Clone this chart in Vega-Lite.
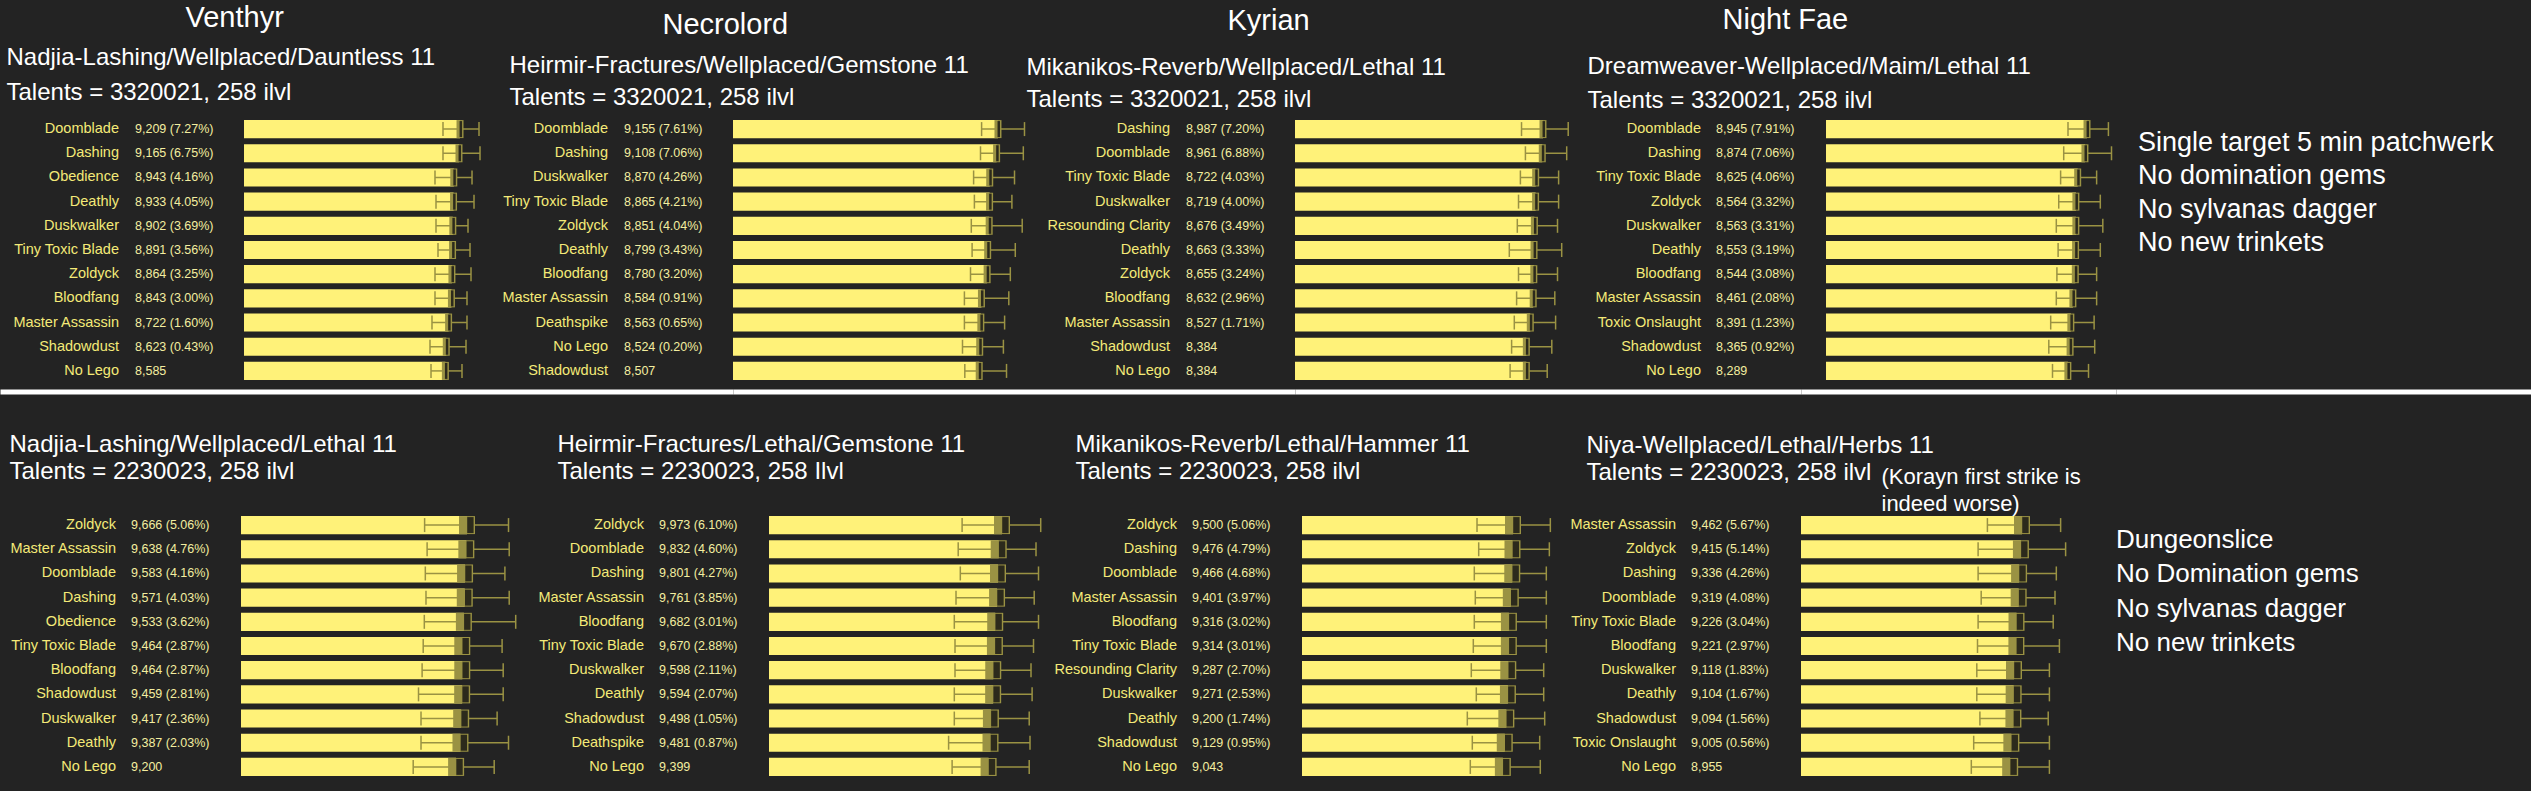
{
"$schema": "https://vega.github.io/schema/vega-lite/v6.json",
"background": "#232323",
"padding": {"left": 0, "top": 3, "right": 0, "bottom": 14},
"config": {"view": {"stroke": null}},
"datasets": {
"tv": [
{"name": "Doomblade", "dps": 9209, "txt": "9,209 (7.27%)", "lo": 8483, "hi": 10018},
{"name": "Dashing", "dps": 9165, "txt": "9,165 (6.75%)", "lo": 8483, "hi": 10061},
{"name": "Obedience", "dps": 8943, "txt": "8,943 (4.16%)", "lo": 8142, "hi": 9720},
{"name": "Deathly", "dps": 8933, "txt": "8,933 (4.05%)", "lo": 8185, "hi": 9805},
{"name": "Duskwalker", "dps": 8902, "txt": "8,902 (3.69%)", "lo": 8185, "hi": 9549},
{"name": "Tiny Toxic Blade", "dps": 8891, "txt": "8,891 (3.56%)", "lo": 8270, "hi": 9634},
{"name": "Zoldyck", "dps": 8864, "txt": "8,864 (3.25%)", "lo": 8142, "hi": 9677},
{"name": "Bloodfang", "dps": 8843, "txt": "8,843 (3.00%)", "lo": 8142, "hi": 9506},
{"name": "Master Assassin", "dps": 8722, "txt": "8,722 (1.60%)", "lo": 8014, "hi": 9506},
{"name": "Shadowdust", "dps": 8623, "txt": "8,623 (0.43%)", "lo": 7929, "hi": 9464},
{"name": "No Lego", "dps": 8585, "txt": "8,585", "lo": 7972, "hi": 9293}
],
"tn": [
{"name": "Doomblade", "dps": 9155, "txt": "9,155 (7.61%)", "lo": 8589, "hi": 10071},
{"name": "Dashing", "dps": 9108, "txt": "9,108 (7.06%)", "lo": 8551, "hi": 10030},
{"name": "Duskwalker", "dps": 8870, "txt": "8,870 (4.26%)", "lo": 8313, "hi": 9726},
{"name": "Tiny Toxic Blade", "dps": 8865, "txt": "8,865 (4.21%)", "lo": 8340, "hi": 9636},
{"name": "Zoldyck", "dps": 8851, "txt": "8,851 (4.04%)", "lo": 8233, "hi": 9992},
{"name": "Deathly", "dps": 8799, "txt": "8,799 (3.43%)", "lo": 8261, "hi": 9753},
{"name": "Bloodfang", "dps": 8780, "txt": "8,780 (3.20%)", "lo": 8206, "hi": 9581},
{"name": "Master Assassin", "dps": 8584, "txt": "8,584 (0.91%)", "lo": 7995, "hi": 9529},
{"name": "Deathspike", "dps": 8563, "txt": "8,563 (0.65%)", "lo": 7995, "hi": 9384},
{"name": "No Lego", "dps": 8524, "txt": "8,524 (0.20%)", "lo": 7929, "hi": 9342},
{"name": "Shadowdust", "dps": 8507, "txt": "8,507", "lo": 8009, "hi": 9450}
],
"tk": [
{"name": "Dashing", "dps": 8987, "txt": "8,987 (7.20%)", "lo": 8209, "hi": 9901},
{"name": "Doomblade", "dps": 8961, "txt": "8,961 (6.88%)", "lo": 8350, "hi": 9846},
{"name": "Tiny Toxic Blade", "dps": 8722, "txt": "8,722 (4.03%)", "lo": 8168, "hi": 9553},
{"name": "Duskwalker", "dps": 8719, "txt": "8,719 (4.00%)", "lo": 8100, "hi": 9553},
{"name": "Resounding Clarity", "dps": 8676, "txt": "8,676 (3.49%)", "lo": 8056, "hi": 9513},
{"name": "Deathly", "dps": 8663, "txt": "8,663 (3.33%)", "lo": 7766, "hi": 9665},
{"name": "Zoldyck", "dps": 8655, "txt": "8,655 (3.24%)", "lo": 8100, "hi": 9513},
{"name": "Bloodfang", "dps": 8632, "txt": "8,632 (2.96%)", "lo": 8031, "hi": 9415},
{"name": "Master Assassin", "dps": 8527, "txt": "8,527 (1.71%)", "lo": 7947, "hi": 9444},
{"name": "Shadowdust", "dps": 8384, "txt": "8,384", "lo": 7850, "hi": 9306},
{"name": "No Lego", "dps": 8384, "txt": "8,384", "lo": 7795, "hi": 9140}
],
"tf": [
{"name": "Doomblade", "dps": 8945, "txt": "8,945 (7.91%)", "lo": 8293, "hi": 9678},
{"name": "Dashing", "dps": 8874, "txt": "8,874 (7.06%)", "lo": 8146, "hi": 9784},
{"name": "Tiny Toxic Blade", "dps": 8625, "txt": "8,625 (4.06%)", "lo": 8040, "hi": 9274},
{"name": "Zoldyck", "dps": 8564, "txt": "8,564 (3.32%)", "lo": 7975, "hi": 9400},
{"name": "Duskwalker", "dps": 8563, "txt": "8,563 (3.31%)", "lo": 7892, "hi": 9486},
{"name": "Deathly", "dps": 8553, "txt": "8,553 (3.19%)", "lo": 7954, "hi": 9400},
{"name": "Bloodfang", "dps": 8544, "txt": "8,544 (3.08%)", "lo": 7913, "hi": 9274},
{"name": "Master Assassin", "dps": 8461, "txt": "8,461 (2.08%)", "lo": 7892, "hi": 9274},
{"name": "Toxic Onslaught", "dps": 8391, "txt": "8,391 (1.23%)", "lo": 7700, "hi": 9188},
{"name": "Shadowdust", "dps": 8365, "txt": "8,365 (0.92%)", "lo": 7635, "hi": 9208},
{"name": "No Lego", "dps": 8289, "txt": "8,289", "lo": 7762, "hi": 8996}
],
"bv": [
{"name": "Zoldyck", "dps": 9666, "txt": "9,666 (5.06%)", "lo": 7853, "hi": 11441},
{"name": "Master Assassin", "dps": 9638, "txt": "9,638 (4.76%)", "lo": 7960, "hi": 11471},
{"name": "Doomblade", "dps": 9583, "txt": "9,583 (4.16%)", "lo": 7883, "hi": 11287},
{"name": "Dashing", "dps": 9571, "txt": "9,571 (4.03%)", "lo": 7912, "hi": 11471},
{"name": "Obedience", "dps": 9533, "txt": "9,533 (3.62%)", "lo": 7840, "hi": 11749},
{"name": "Tiny Toxic Blade", "dps": 9464, "txt": "9,464 (2.87%)", "lo": 7793, "hi": 11167},
{"name": "Bloodfang", "dps": 9464, "txt": "9,464 (2.87%)", "lo": 7746, "hi": 11214},
{"name": "Shadowdust", "dps": 9459, "txt": "9,459 (2.81%)", "lo": 7592, "hi": 11214},
{"name": "Duskwalker", "dps": 9417, "txt": "9,417 (2.36%)", "lo": 7699, "hi": 10954},
{"name": "Deathly", "dps": 9387, "txt": "9,387 (2.03%)", "lo": 7699, "hi": 11441},
{"name": "No Lego", "dps": 9200, "txt": "9,200", "lo": 7365, "hi": 10829}
],
"bn": [
{"name": "Zoldyck", "dps": 9973, "txt": "9,973 (6.10%)", "lo": 8265, "hi": 11629},
{"name": "Doomblade", "dps": 9832, "txt": "9,832 (4.60%)", "lo": 8098, "hi": 11428},
{"name": "Dashing", "dps": 9801, "txt": "9,801 (4.27%)", "lo": 8188, "hi": 11535},
{"name": "Master Assassin", "dps": 9761, "txt": "9,761 (3.85%)", "lo": 8004, "hi": 11351},
{"name": "Bloodfang", "dps": 9682, "txt": "9,682 (3.01%)", "lo": 7931, "hi": 11535},
{"name": "Tiny Toxic Blade", "dps": 9670, "txt": "9,670 (2.88%)", "lo": 7961, "hi": 11321},
{"name": "Duskwalker", "dps": 9598, "txt": "9,598 (2.11%)", "lo": 7961, "hi": 11214},
{"name": "Deathly", "dps": 9594, "txt": "9,594 (2.07%)", "lo": 7931, "hi": 11261},
{"name": "Shadowdust", "dps": 9498, "txt": "9,498 (1.05%)", "lo": 7931, "hi": 11137},
{"name": "Deathspike", "dps": 9481, "txt": "9,481 (0.87%)", "lo": 7687, "hi": 11171},
{"name": "No Lego", "dps": 9399, "txt": "9,399", "lo": 7837, "hi": 11137}
],
"bk": [
{"name": "Zoldyck", "dps": 9500, "txt": "9,500 (5.06%)", "lo": 7879, "hi": 11180},
{"name": "Dashing", "dps": 9476, "txt": "9,476 (4.79%)", "lo": 7955, "hi": 11135},
{"name": "Doomblade", "dps": 9466, "txt": "9,466 (4.68%)", "lo": 7757, "hi": 10999},
{"name": "Master Assassin", "dps": 9401, "txt": "9,401 (3.97%)", "lo": 7802, "hi": 10999},
{"name": "Bloodfang", "dps": 9316, "txt": "9,316 (3.02%)", "lo": 7757, "hi": 10999},
{"name": "Tiny Toxic Blade", "dps": 9314, "txt": "9,314 (3.01%)", "lo": 7712, "hi": 10999},
{"name": "Resounding Clarity", "dps": 9287, "txt": "9,287 (2.70%)", "lo": 7622, "hi": 10881},
{"name": "Duskwalker", "dps": 9271, "txt": "9,271 (2.53%)", "lo": 7847, "hi": 10881},
{"name": "Deathly", "dps": 9200, "txt": "9,200 (1.74%)", "lo": 7442, "hi": 10926},
{"name": "Shadowdust", "dps": 9129, "txt": "9,129 (0.95%)", "lo": 7667, "hi": 10701},
{"name": "No Lego", "dps": 9043, "txt": "9,043", "lo": 7577, "hi": 10728}
],
"bf": [
{"name": "Master Assassin", "dps": 9462, "txt": "9,462 (5.67%)", "lo": 7980, "hi": 11114},
{"name": "Zoldyck", "dps": 9415, "txt": "9,415 (5.14%)", "lo": 7582, "hi": 11328},
{"name": "Dashing", "dps": 9336, "txt": "9,336 (4.26%)", "lo": 7582, "hi": 10930},
{"name": "Doomblade", "dps": 9319, "txt": "9,319 (4.08%)", "lo": 7714, "hi": 10874},
{"name": "Tiny Toxic Blade", "dps": 9226, "txt": "9,226 (3.04%)", "lo": 7582, "hi": 10797},
{"name": "Bloodfang", "dps": 9221, "txt": "9,221 (2.97%)", "lo": 7556, "hi": 11062},
{"name": "Duskwalker", "dps": 9118, "txt": "9,118 (1.83%)", "lo": 7526, "hi": 10634},
{"name": "Deathly", "dps": 9104, "txt": "9,104 (1.67%)", "lo": 7526, "hi": 10634},
{"name": "Shadowdust", "dps": 9094, "txt": "9,094 (1.56%)", "lo": 7659, "hi": 10583},
{"name": "Toxic Onslaught", "dps": 9005, "txt": "9,005 (0.56%)", "lo": 7393, "hi": 10634},
{"name": "No Lego", "dps": 8955, "txt": "8,955", "lo": 7291, "hi": 10634}
],
"nt": [
{"n": 1, "note": "Single target 5 min patchwerk"},
{"n": 2, "note": "No domination gems"},
{"n": 3, "note": "No sylvanas dagger"},
{"n": 4, "note": "No new trinkets"}
],
"nb": [
{"n": 1, "note": "Dungeonslice"},
{"n": 2, "note": "No Domination gems"},
{"n": 3, "note": "No sylvanas dagger"},
{"n": 4, "note": "No new trinkets"}
]
},
"columns": 5,
"bounds": "flush",
"spacing": {"row": 130, "column": 0},
"concat": [
{
"width": 733, "height": 266, "data": {"name": "tv"},
"encoding": {"y": {"field": "name", "type": "nominal", "sort": null, "scale": {"paddingInner": 0.25, "paddingOuter": 0.125}, "axis": {"title": "Venthyr", "labels": false, "ticks": false, "domain": false, "grid": false, "titleAngle": 0, "titleX": 185, "titleY": -91, "titleAlign": "left", "titleBaseline": "alphabetic", "titleFontSize": 29, "titleFont": "Liberation Sans", "titleFontWeight": "normal", "titleColor": "#ffffff"}}},
"layer": [
{"mark": {"type": "bar", "color": "#fff279"}, "encoding": {"x": {"field": "dps", "type": "quantitative", "scale": {"domain": [-10402, 20846], "nice": false}, "axis": {"orient": "top", "title": ["Nadjia-Lashing/Wellplaced/Dauntless 11", "Talents = 3320021, 258 ilvl"], "labels": false, "ticks": false, "domain": false, "grid": false, "titleX": 6, "titleY": -53, "titleAlign": "left", "titleBaseline": "alphabetic", "titleFontSize": 24, "titleLineHeight": 35, "titleFont": "Liberation Sans", "titleFontWeight": "normal", "titleColor": "#ffffff"}}}},
{"mark": {"type": "rule", "color": "#9a9243", "strokeWidth": 1.5}, "encoding": {"x": {"field": "lo", "type": "quantitative"}, "x2": {"field": "hi"}}},
{"mark": {"type": "tick", "color": "#9a9243", "thickness": 1.5, "size": 14, "opacity": 1}, "encoding": {"x": {"field": "lo", "type": "quantitative"}}},
{"mark": {"type": "tick", "color": "#9a9243", "thickness": 1.5, "size": 14, "opacity": 1}, "encoding": {"x": {"field": "hi", "type": "quantitative"}}},
{"mark": {"type": "tick", "color": "#9a9243", "thickness": 7, "size": 18, "opacity": 1}, "encoding": {"x": {"field": "dps", "type": "quantitative"}}},
{"mark": {"type": "tick", "color": "#2c2a1c", "thickness": 2.5, "size": 16, "opacity": 1, "xOffset": 0.8}, "encoding": {"x": {"field": "dps", "type": "quantitative"}}},
{"mark": {"type": "text", "align": "right", "baseline": "middle", "dx": -125, "font": "Liberation Sans", "fontSize": 14.5, "color": "#f4ea78"}, "encoding": {"x": {"datum": 0, "type": "quantitative"}, "text": {"field": "name"}}},
{"mark": {"type": "text", "align": "left", "baseline": "middle", "dx": -109, "font": "Liberation Sans", "fontSize": 12.5, "color": "#f3eea0"}, "encoding": {"x": {"datum": 0, "type": "quantitative"}, "text": {"field": "txt"}}}
]
},
{
"width": 562, "height": 266, "data": {"name": "tn"},
"encoding": {"y": {"field": "name", "type": "nominal", "sort": null, "scale": {"paddingInner": 0.25, "paddingOuter": 0.125}, "axis": {"title": "Necrolord", "labels": false, "ticks": false, "domain": false, "grid": false, "titleAngle": 0, "titleX": -71, "titleY": -84, "titleAlign": "left", "titleBaseline": "alphabetic", "titleFontSize": 29, "titleFont": "Liberation Sans", "titleFontWeight": "normal", "titleColor": "#ffffff"}}},
"layer": [
{"mark": {"type": "bar", "color": "#fff279"}, "encoding": {"x": {"field": "dps", "type": "quantitative", "scale": {"domain": [0, 19417], "nice": false}, "axis": {"orient": "top", "title": ["Heirmir-Fractures/Wellplaced/Gemstone 11", "Talents = 3320021, 258 ilvl"], "labels": false, "ticks": false, "domain": false, "grid": false, "titleX": -224, "titleY": -45, "titleAlign": "left", "titleBaseline": "alphabetic", "titleFontSize": 24, "titleLineHeight": 32, "titleFont": "Liberation Sans", "titleFontWeight": "normal", "titleColor": "#ffffff"}}}},
{"mark": {"type": "rule", "color": "#9a9243", "strokeWidth": 1.5}, "encoding": {"x": {"field": "lo", "type": "quantitative"}, "x2": {"field": "hi"}}},
{"mark": {"type": "tick", "color": "#9a9243", "thickness": 1.5, "size": 14, "opacity": 1}, "encoding": {"x": {"field": "lo", "type": "quantitative"}}},
{"mark": {"type": "tick", "color": "#9a9243", "thickness": 1.5, "size": 14, "opacity": 1}, "encoding": {"x": {"field": "hi", "type": "quantitative"}}},
{"mark": {"type": "tick", "color": "#9a9243", "thickness": 7, "size": 18, "opacity": 1}, "encoding": {"x": {"field": "dps", "type": "quantitative"}}},
{"mark": {"type": "tick", "color": "#2c2a1c", "thickness": 2.5, "size": 16, "opacity": 1, "xOffset": 0.8}, "encoding": {"x": {"field": "dps", "type": "quantitative"}}},
{"mark": {"type": "text", "align": "right", "baseline": "middle", "dx": -125, "font": "Liberation Sans", "fontSize": 14.5, "color": "#f4ea78"}, "encoding": {"x": {"datum": 0, "type": "quantitative"}, "text": {"field": "name"}}},
{"mark": {"type": "text", "align": "left", "baseline": "middle", "dx": -109, "font": "Liberation Sans", "fontSize": 12.5, "color": "#f3eea0"}, "encoding": {"x": {"datum": 0, "type": "quantitative"}, "text": {"field": "txt"}}}
]
},
{
"width": 506, "height": 266, "data": {"name": "tk"},
"encoding": {"y": {"field": "name", "type": "nominal", "sort": null, "scale": {"paddingInner": 0.25, "paddingOuter": 0.125}, "axis": {"title": "Kyrian", "labels": false, "ticks": false, "domain": false, "grid": false, "titleAngle": 0, "titleX": -68, "titleY": -88, "titleAlign": "left", "titleBaseline": "alphabetic", "titleFontSize": 29, "titleFont": "Liberation Sans", "titleFontWeight": "normal", "titleColor": "#ffffff"}}},
"layer": [
{"mark": {"type": "bar", "color": "#fff279"}, "encoding": {"x": {"field": "dps", "type": "quantitative", "scale": {"domain": [0, 18337], "nice": false}, "axis": {"orient": "top", "title": ["Mikanikos-Reverb/Wellplaced/Lethal 11", "Talents = 3320021, 258 ilvl"], "labels": false, "ticks": false, "domain": false, "grid": false, "titleX": -269, "titleY": -43, "titleAlign": "left", "titleBaseline": "alphabetic", "titleFontSize": 24, "titleLineHeight": 32, "titleFont": "Liberation Sans", "titleFontWeight": "normal", "titleColor": "#ffffff"}}}},
{"mark": {"type": "rule", "color": "#9a9243", "strokeWidth": 1.5}, "encoding": {"x": {"field": "lo", "type": "quantitative"}, "x2": {"field": "hi"}}},
{"mark": {"type": "tick", "color": "#9a9243", "thickness": 1.5, "size": 14, "opacity": 1}, "encoding": {"x": {"field": "lo", "type": "quantitative"}}},
{"mark": {"type": "tick", "color": "#9a9243", "thickness": 1.5, "size": 14, "opacity": 1}, "encoding": {"x": {"field": "hi", "type": "quantitative"}}},
{"mark": {"type": "tick", "color": "#9a9243", "thickness": 7, "size": 18, "opacity": 1}, "encoding": {"x": {"field": "dps", "type": "quantitative"}}},
{"mark": {"type": "tick", "color": "#2c2a1c", "thickness": 2.5, "size": 16, "opacity": 1, "xOffset": 0.8}, "encoding": {"x": {"field": "dps", "type": "quantitative"}}},
{"mark": {"type": "text", "align": "right", "baseline": "middle", "dx": -125, "font": "Liberation Sans", "fontSize": 14.5, "color": "#f4ea78"}, "encoding": {"x": {"datum": 0, "type": "quantitative"}, "text": {"field": "name"}}},
{"mark": {"type": "text", "align": "left", "baseline": "middle", "dx": -109, "font": "Liberation Sans", "fontSize": 12.5, "color": "#f3eea0"}, "encoding": {"x": {"datum": 0, "type": "quantitative"}, "text": {"field": "txt"}}}
]
},
{
"width": 315, "height": 266, "data": {"name": "tf"},
"encoding": {"y": {"field": "name", "type": "nominal", "sort": null, "scale": {"paddingInner": 0.25, "paddingOuter": 0.125}, "axis": {"title": "Night Fae", "labels": false, "ticks": false, "domain": false, "grid": false, "titleAngle": 0, "titleX": -79, "titleY": -89, "titleAlign": "left", "titleBaseline": "alphabetic", "titleFontSize": 29, "titleFont": "Liberation Sans", "titleFontWeight": "normal", "titleColor": "#ffffff"}}},
"layer": [
{"mark": {"type": "bar", "color": "#fff279"}, "encoding": {"x": {"field": "dps", "type": "quantitative", "scale": {"domain": [-857, 9938], "nice": false}, "axis": {"orient": "top", "title": ["Dreamweaver-Wellplaced/Maim/Lethal 11", "Talents = 3320021, 258 ilvl"], "labels": false, "ticks": false, "domain": false, "grid": false, "titleX": -214, "titleY": -44, "titleAlign": "left", "titleBaseline": "alphabetic", "titleFontSize": 24, "titleLineHeight": 34, "titleFont": "Liberation Sans", "titleFontWeight": "normal", "titleColor": "#ffffff"}}}},
{"mark": {"type": "rule", "color": "#9a9243", "strokeWidth": 1.5}, "encoding": {"x": {"field": "lo", "type": "quantitative"}, "x2": {"field": "hi"}}},
{"mark": {"type": "tick", "color": "#9a9243", "thickness": 1.5, "size": 14, "opacity": 1}, "encoding": {"x": {"field": "lo", "type": "quantitative"}}},
{"mark": {"type": "tick", "color": "#9a9243", "thickness": 1.5, "size": 14, "opacity": 1}, "encoding": {"x": {"field": "hi", "type": "quantitative"}}},
{"mark": {"type": "tick", "color": "#9a9243", "thickness": 7, "size": 18, "opacity": 1}, "encoding": {"x": {"field": "dps", "type": "quantitative"}}},
{"mark": {"type": "tick", "color": "#2c2a1c", "thickness": 2.5, "size": 16, "opacity": 1, "xOffset": 0.8}, "encoding": {"x": {"field": "dps", "type": "quantitative"}}},
{"mark": {"type": "text", "align": "right", "baseline": "middle", "dx": -125, "font": "Liberation Sans", "fontSize": 14.5, "color": "#f4ea78"}, "encoding": {"x": {"datum": 0, "type": "quantitative"}, "text": {"field": "name"}}},
{"mark": {"type": "text", "align": "left", "baseline": "middle", "dx": -110, "font": "Liberation Sans", "fontSize": 12.5, "color": "#f3eea0"}, "encoding": {"x": {"datum": 0, "type": "quantitative"}, "text": {"field": "txt"}}}
]
},
{
"width": 415, "height": 168, "data": {"name": "nt"},
"mark": {"type": "text", "align": "left", "baseline": "alphabetic", "font": "Liberation Sans", "fontSize": 27, "color": "#ffffff"},
"encoding": {
"x": {"datum": 0, "type": "quantitative", "scale": {"domain": [-22, 393], "nice": false}, "axis": null},
"y": {"field": "n", "type": "ordinal", "sort": null, "scale": {"type": "point", "padding": 1.125}, "axis": null},
"text": {"field": "note"}
}
},
{
"width": 733, "height": 266, "data": {"name": "bv"},
"encoding": {"y": {"field": "name", "type": "nominal", "sort": null, "scale": {"paddingInner": 0.25, "paddingOuter": 0.125}, "axis": null}},
"layer": [
{"mark": {"type": "bar", "color": "#fff279"}, "encoding": {"x": {"field": "dps", "type": "quantitative", "scale": {"domain": [-10308, 21043], "nice": false}, "axis": {"orient": "top", "offset": 121.5, "title": ["Nadjia-Lashing/Wellplaced/Lethal 11", "Talents = 2230023, 258 ilvl"], "labels": false, "ticks": false, "domain": true, "domainColor": "#ffffff", "domainWidth": 5, "grid": false, "titleX": 9, "titleY": 60, "titleAlign": "left", "titleBaseline": "alphabetic", "titleFontSize": 24, "titleLineHeight": 27, "titleFont": "Liberation Sans", "titleFontWeight": "normal", "titleColor": "#ffffff"}}}},
{"mark": {"type": "rule", "color": "#9a9243", "strokeWidth": 1.5}, "encoding": {"x": {"field": "lo", "type": "quantitative"}, "x2": {"field": "hi"}}},
{"mark": {"type": "tick", "color": "#9a9243", "thickness": 1.5, "size": 14, "opacity": 1}, "encoding": {"x": {"field": "lo", "type": "quantitative"}}},
{"mark": {"type": "tick", "color": "#9a9243", "thickness": 1.5, "size": 14, "opacity": 1}, "encoding": {"x": {"field": "hi", "type": "quantitative"}}},
{"mark": {"type": "tick", "color": "#9a9243", "thickness": 16, "size": 18, "opacity": 1}, "encoding": {"x": {"field": "dps", "type": "quantitative"}}},
{"mark": {"type": "tick", "color": "#2c2a1c", "thickness": 6.4, "size": 16, "opacity": 1, "xOffset": 3.4}, "encoding": {"x": {"field": "dps", "type": "quantitative"}}},
{"mark": {"type": "text", "align": "right", "baseline": "middle", "dx": -125, "font": "Liberation Sans", "fontSize": 14.5, "color": "#f4ea78"}, "encoding": {"x": {"datum": 0, "type": "quantitative"}, "text": {"field": "name"}}},
{"mark": {"type": "text", "align": "left", "baseline": "middle", "dx": -110, "font": "Liberation Sans", "fontSize": 12.5, "color": "#f3eea0"}, "encoding": {"x": {"datum": 0, "type": "quantitative"}, "text": {"field": "txt"}}}
]
},
{
"width": 562, "height": 266, "data": {"name": "bn"},
"encoding": {"y": {"field": "name", "type": "nominal", "sort": null, "scale": {"paddingInner": 0.25, "paddingOuter": 0.125}, "axis": null}},
"layer": [
{"mark": {"type": "bar", "color": "#fff279"}, "encoding": {"x": {"field": "dps", "type": "quantitative", "scale": {"domain": [-1541, 22513], "nice": false}, "axis": {"orient": "top", "offset": 121.5, "title": ["Heirmir-Fractures/Lethal/Gemstone 11", "Talents = 2230023, 258 Ilvl"], "labels": false, "ticks": false, "domain": true, "domainColor": "#ffffff", "domainWidth": 5, "grid": false, "titleX": -176, "titleY": 60, "titleAlign": "left", "titleBaseline": "alphabetic", "titleFontSize": 24, "titleLineHeight": 27, "titleFont": "Liberation Sans", "titleFontWeight": "normal", "titleColor": "#ffffff"}}}},
{"mark": {"type": "rule", "color": "#9a9243", "strokeWidth": 1.5}, "encoding": {"x": {"field": "lo", "type": "quantitative"}, "x2": {"field": "hi"}}},
{"mark": {"type": "tick", "color": "#9a9243", "thickness": 1.5, "size": 14, "opacity": 1}, "encoding": {"x": {"field": "lo", "type": "quantitative"}}},
{"mark": {"type": "tick", "color": "#9a9243", "thickness": 1.5, "size": 14, "opacity": 1}, "encoding": {"x": {"field": "hi", "type": "quantitative"}}},
{"mark": {"type": "tick", "color": "#9a9243", "thickness": 16, "size": 18, "opacity": 1}, "encoding": {"x": {"field": "dps", "type": "quantitative"}}},
{"mark": {"type": "tick", "color": "#2c2a1c", "thickness": 6.4, "size": 16, "opacity": 1, "xOffset": 3.4}, "encoding": {"x": {"field": "dps", "type": "quantitative"}}},
{"mark": {"type": "text", "align": "right", "baseline": "middle", "dx": -125, "font": "Liberation Sans", "fontSize": 14.5, "color": "#f4ea78"}, "encoding": {"x": {"datum": 0, "type": "quantitative"}, "text": {"field": "name"}}},
{"mark": {"type": "text", "align": "left", "baseline": "middle", "dx": -110, "font": "Liberation Sans", "fontSize": 12.5, "color": "#f3eea0"}, "encoding": {"x": {"datum": 0, "type": "quantitative"}, "text": {"field": "txt"}}}
]
},
{
"width": 506, "height": 266, "data": {"name": "bk"},
"encoding": {"y": {"field": "name", "type": "nominal", "sort": null, "scale": {"paddingInner": 0.25, "paddingOuter": 0.125}, "axis": null}},
"layer": [
{"mark": {"type": "bar", "color": "#fff279"}, "encoding": {"x": {"field": "dps", "type": "quantitative", "scale": {"domain": [-315, 22465], "nice": false}, "axis": {"orient": "top", "offset": 121.5, "title": ["Mikanikos-Reverb/Lethal/Hammer 11", "Talents = 2230023, 258 ilvl"], "labels": false, "ticks": false, "domain": true, "domainColor": "#ffffff", "domainWidth": 5, "grid": false, "titleX": -220, "titleY": 60, "titleAlign": "left", "titleBaseline": "alphabetic", "titleFontSize": 24, "titleLineHeight": 27, "titleFont": "Liberation Sans", "titleFontWeight": "normal", "titleColor": "#ffffff"}}}},
{"mark": {"type": "rule", "color": "#9a9243", "strokeWidth": 1.5}, "encoding": {"x": {"field": "lo", "type": "quantitative"}, "x2": {"field": "hi"}}},
{"mark": {"type": "tick", "color": "#9a9243", "thickness": 1.5, "size": 14, "opacity": 1}, "encoding": {"x": {"field": "lo", "type": "quantitative"}}},
{"mark": {"type": "tick", "color": "#9a9243", "thickness": 1.5, "size": 14, "opacity": 1}, "encoding": {"x": {"field": "hi", "type": "quantitative"}}},
{"mark": {"type": "tick", "color": "#9a9243", "thickness": 16, "size": 18, "opacity": 1}, "encoding": {"x": {"field": "dps", "type": "quantitative"}}},
{"mark": {"type": "tick", "color": "#2c2a1c", "thickness": 6.4, "size": 16, "opacity": 1, "xOffset": 3.4}, "encoding": {"x": {"field": "dps", "type": "quantitative"}}},
{"mark": {"type": "text", "align": "right", "baseline": "middle", "dx": -125, "font": "Liberation Sans", "fontSize": 14.5, "color": "#f4ea78"}, "encoding": {"x": {"datum": 0, "type": "quantitative"}, "text": {"field": "name"}}},
{"mark": {"type": "text", "align": "left", "baseline": "middle", "dx": -110, "font": "Liberation Sans", "fontSize": 12.5, "color": "#f3eea0"}, "encoding": {"x": {"datum": 0, "type": "quantitative"}, "text": {"field": "txt"}}}
]
},
{
"width": 315, "height": 266, "data": {"name": "bf"},
"encoding": {"y": {"field": "name", "type": "nominal", "sort": null, "scale": {"paddingInner": 0.25, "paddingOuter": 0.125}, "axis": {"title": ["(Korayn first strike is", "indeed worse)"], "labels": false, "ticks": false, "domain": false, "grid": false, "titleAngle": 0, "titleX": 80, "titleY": -30, "titleAlign": "left", "titleBaseline": "alphabetic", "titleFontSize": 22, "titleLineHeight": 27, "titleFont": "Liberation Sans", "titleFontWeight": "normal", "titleColor": "#ffffff"}}},
"layer": [
{"mark": {"type": "bar", "color": "#fff279"}, "encoding": {"x": {"field": "dps", "type": "quantitative", "scale": {"domain": [0, 13485], "nice": false}, "axis": {"orient": "top", "offset": 121.5, "title": ["Niya-Wellplaced/Lethal/Herbs 11", "Talents = 2230023, 258 ilvl"], "labels": false, "ticks": false, "domain": true, "domainColor": "#ffffff", "domainWidth": 5, "grid": false, "titleX": -215, "titleY": 61, "titleAlign": "left", "titleBaseline": "alphabetic", "titleFontSize": 24, "titleLineHeight": 27, "titleFont": "Liberation Sans", "titleFontWeight": "normal", "titleColor": "#ffffff"}}}},
{"mark": {"type": "rule", "color": "#9a9243", "strokeWidth": 1.5}, "encoding": {"x": {"field": "lo", "type": "quantitative"}, "x2": {"field": "hi"}}},
{"mark": {"type": "tick", "color": "#9a9243", "thickness": 1.5, "size": 14, "opacity": 1}, "encoding": {"x": {"field": "lo", "type": "quantitative"}}},
{"mark": {"type": "tick", "color": "#9a9243", "thickness": 1.5, "size": 14, "opacity": 1}, "encoding": {"x": {"field": "hi", "type": "quantitative"}}},
{"mark": {"type": "tick", "color": "#9a9243", "thickness": 16, "size": 18, "opacity": 1}, "encoding": {"x": {"field": "dps", "type": "quantitative"}}},
{"mark": {"type": "tick", "color": "#2c2a1c", "thickness": 6.4, "size": 16, "opacity": 1, "xOffset": 3.4}, "encoding": {"x": {"field": "dps", "type": "quantitative"}}},
{"mark": {"type": "text", "align": "right", "baseline": "middle", "dx": -125, "font": "Liberation Sans", "fontSize": 14.5, "color": "#f4ea78"}, "encoding": {"x": {"datum": 0, "type": "quantitative"}, "text": {"field": "name"}}},
{"mark": {"type": "text", "align": "left", "baseline": "middle", "dx": -110, "font": "Liberation Sans", "fontSize": 12.5, "color": "#f3eea0"}, "encoding": {"x": {"datum": 0, "type": "quantitative"}, "text": {"field": "txt"}}}
]
},
{
"width": 415, "height": 173, "data": {"name": "nb"},
"mark": {"type": "text", "align": "left", "baseline": "alphabetic", "font": "Liberation Sans", "fontSize": 26, "color": "#ffffff"},
"encoding": {
"x": {"datum": 0, "type": "quantitative", "scale": {"domain": [0, 415], "nice": false}, "axis": {"orient": "top", "offset": 121.5, "title": null, "labels": false, "ticks": false, "grid": false, "domain": true, "domainColor": "#ffffff", "domainWidth": 5}},
"y": {"field": "n", "type": "ordinal", "sort": null, "scale": {"type": "point", "padding": 1.23}, "axis": null},
"text": {"field": "note"}
}
}
]
}
